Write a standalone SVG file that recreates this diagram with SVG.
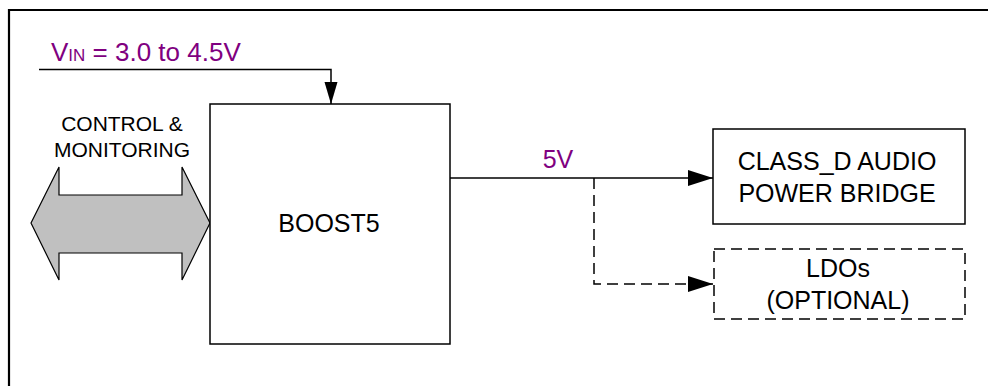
<svg xmlns="http://www.w3.org/2000/svg" width="988" height="386" viewBox="0 0 988 386">
<style>
.t{font-family:"Liberation Sans",Arial,sans-serif;fill:#000;text-anchor:middle}
.p{fill:#800080}
.box{fill:#fff;stroke:#000;stroke-width:1.5}
.dash{stroke-dasharray:11 6}
.w{fill:none;stroke:#000;stroke-width:1.5}
</style>
<defs>
<marker id="ah" markerUnits="userSpaceOnUse" markerWidth="26" markerHeight="18" refX="25" refY="8" orient="auto">
<path d="M0,0 L25,8 L0,16 Z" fill="#000"/>
</marker>
<marker id="ahs" markerUnits="userSpaceOnUse" markerWidth="24" markerHeight="14" refX="22" refY="6.5" orient="auto">
<path d="M0,0 L22,6.5 L0,13 Z" fill="#000"/>
</marker>
</defs>
<rect width="988" height="386" fill="#fff"/>
<path d="M9,386 V10 H988" fill="none" stroke="#000" stroke-width="2.2"/>
<g id="vin-label">
<text class="t p" x="51" y="61" font-size="26" style="text-anchor:start">V<tspan font-size="17">IN</tspan> = 3.0 to 4.5V</text>
</g>
<g id="control">
<text class="t" x="122" y="131" font-size="21">CONTROL &amp;</text>
<text class="t" x="122" y="157" font-size="21">MONITORING</text>
<polygon points="31,223 59,167 59,195 182,195 182,167 210,223 182,280 182,253 59,253 59,280" fill="#c0c0c0" stroke="#000" stroke-width="1.2"/>
</g>
<g id="boost5">
<rect class="box" x="210" y="104" width="240" height="240"/>
<text class="t" x="329" y="232" font-size="25">BOOST5</text>
</g>
<g id="classd">
<rect class="box" x="713" y="129" width="252" height="95"/>
<text class="t" x="837" y="170" font-size="25">CLASS_D AUDIO</text>
<text class="t" x="837" y="202" font-size="25">POWER BRIDGE</text>
</g>
<g id="ldos">
<rect class="box dash" x="714" y="249" width="251" height="70"/>
<text class="t" x="838" y="277" font-size="25">LDOs</text>
<text class="t" x="838" y="309" font-size="25">(OPTIONAL)</text>
</g>
<g id="connectors">
<path class="w" d="M39,69.5 H331 V104" marker-end="url(#ahs)"/>
<path class="w" d="M450,178 H713" marker-end="url(#ah)"/>
<path class="w dash" d="M594,178 V284 H713" marker-end="url(#ah)"/>
<text class="t p" x="558" y="168" font-size="25">5V</text>
</g>
</svg>
